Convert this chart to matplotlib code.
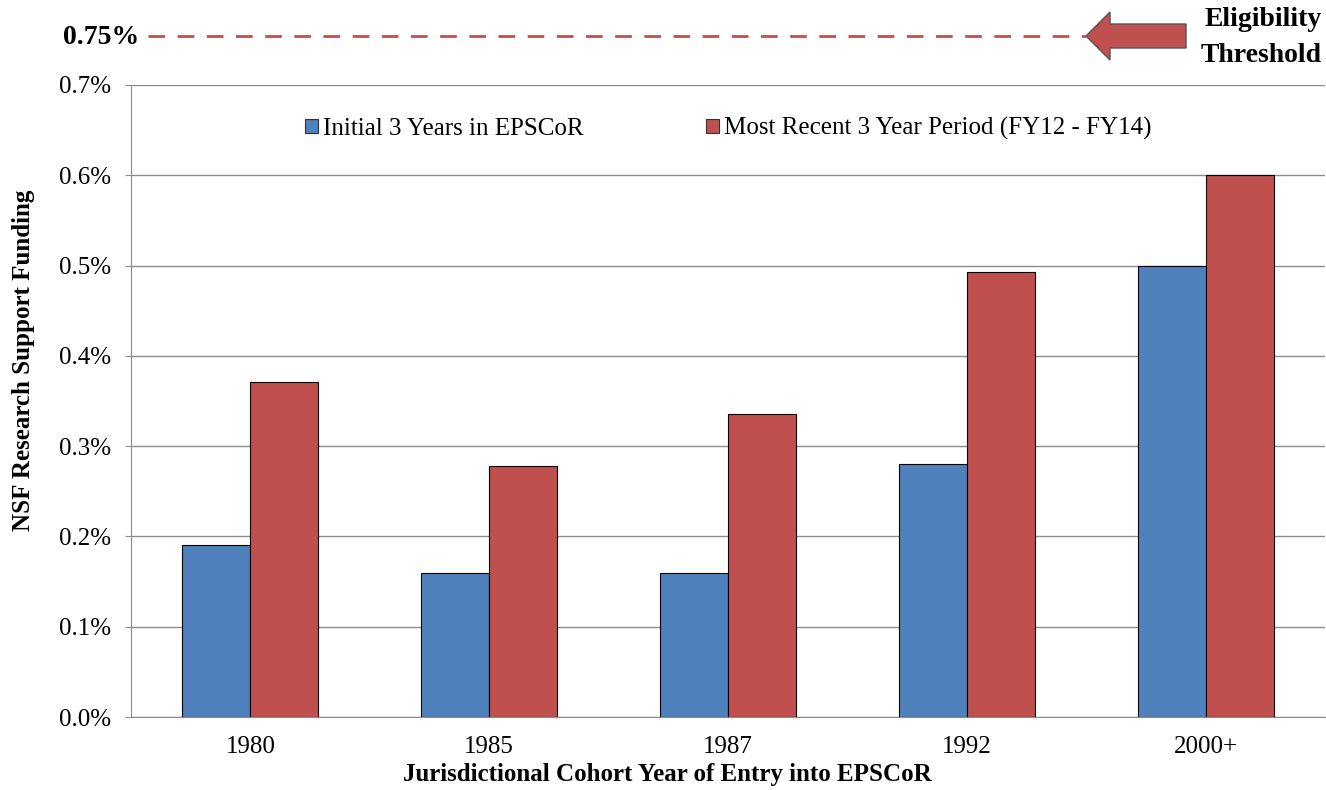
import matplotlib
matplotlib.use("Agg")
import matplotlib.pyplot as plt
import numpy as np
from matplotlib.patches import Polygon
from matplotlib.lines import Line2D
from matplotlib.ticker import FuncFormatter, MultipleLocator

plt.rcParams['font.family'] = ['Liberation Serif', 'DejaVu Serif']

categories = ["1980", "1985", "1987", "1992", "2000+"]
initial = [0.19, 0.16, 0.16, 0.28, 0.50]
recent = [0.371, 0.278, 0.336, 0.493, 0.60]
series_names = ["Initial 3 Years in EPSCoR", "Most Recent 3 Year Period (FY12 - FY14)"]
threshold = 0.75

W, H = 1326, 790
fig = plt.figure(figsize=(W/100, H/100), dpi=100)
ax_l, ax_r, ax_b, ax_t = 131, 1325, 717, 85
ax = fig.add_axes([ax_l/W, 1-ax_b/H, (ax_r-ax_l)/W, (ax_b-ax_t)/H])

blue = "#4F81BD"
red = "#C0504D"
x = np.arange(len(categories))
bw = 0.285
ax.bar(x - bw/2, initial, bw, color=blue, edgecolor="black", linewidth=0.8, label=series_names[0], zorder=3)
ax.bar(x + bw/2, recent, bw, color=red, edgecolor="black", linewidth=0.8, label=series_names[1], zorder=3)

ax.set_xlim(-0.5, len(categories)-0.5)
ax.set_ylim(0, 0.7)
ax.yaxis.set_major_locator(MultipleLocator(0.1))
ax.yaxis.set_major_formatter(FuncFormatter(lambda v, p: f"{v:.1f}%"))
ax.grid(axis='y', color="#8c8c8c", linewidth=1, zorder=0)
ax.set_xticks(x)
ax.set_xticklabels(categories)
for s in ["top", "right"]:
    ax.spines[s].set_visible(False)
for s in ["left", "bottom"]:
    ax.spines[s].set_color("#8c8c8c")
ax.tick_params(axis='y', length=4.3, color="#8c8c8c", labelsize=18, pad=10)
ax.tick_params(axis='x', length=0, labelsize=18, pad=14)

ax.set_ylabel("NSF Research Support Funding", fontsize=18, fontweight="bold")
ax.yaxis.set_label_coords((35-ax_l)/(ax_r-ax_l), (ax_b-360)/(ax_b-ax_t))
ax.set_xlabel("Jurisdictional Cohort Year of Entry into EPSCoR", fontsize=18, fontweight="bold")
ax.xaxis.set_label_coords((667-ax_l)/(ax_r-ax_l), (ax_b-763)/(ax_b-ax_t))

handles = [plt.Rectangle((0, 0), 1, 1, facecolor=blue, edgecolor="#333333", linewidth=0.8),
           plt.Rectangle((0, 0), 1, 1, facecolor=red, edgecolor="#333333", linewidth=0.8)]
leg = ax.legend(handles, series_names, loc="upper center", bbox_to_anchor=((728.5-ax_l)/(ax_r-ax_l), 0.985), ncol=2,
                frameon=False, fontsize=18, handlelength=0.52, handleheight=0.52,
                handletextpad=0.2, columnspacing=4.9)

# threshold line and annotation (figure pixel coordinates)
def fx(px):
    return px / W

def fy(py):
    return 1 - py / H

fig.add_artist(Line2D([fx(148), fx(1086)], [fy(36), fy(36)], transform=fig.transFigure,
                      color=red, linewidth=2, dashes=(6, 4.5)))
fig.text(fx(139), fy(37), f"{threshold:.2f}%", ha="right", va="center", fontsize=20, fontweight="bold")
arrow_pts = [(1086, 36), (1110, 12), (1110, 24), (1186, 24), (1186, 48), (1110, 48), (1110, 60)]
fig.add_artist(Polygon([(fx(a), fy(b)) for a, b in arrow_pts], closed=True, transform=fig.transFigure,
                       facecolor=red, edgecolor="#555555", linewidth=1))
fig.text(fx(1322), fy(37.5), "Eligibility\nThreshold", ha="right", va="center", fontsize=20,
         fontweight="bold", linespacing=1.55)

fig.savefig("out.png", dpi=100)
